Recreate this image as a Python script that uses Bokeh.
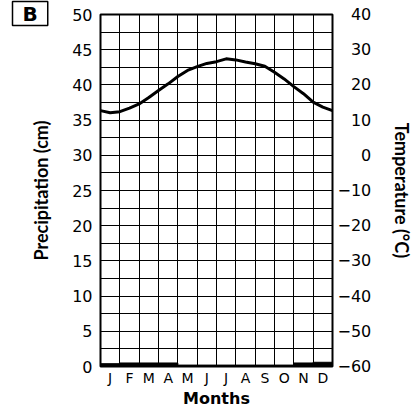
from bokeh.plotting import figure
from bokeh.models import Range1d, LinearAxis, FixedTicker, Title
from bokeh.embed import file_html
from bokeh.resources import INLINE

# ---- data ----
months = ["J", "F", "M", "A", "M", "J", "J", "A", "S", "O", "N", "D"]
month_pos = [0.5, 1.5, 2.5, 3.5, 4.5, 5.5, 6.5, 7.5, 8.5, 9.5, 10.5, 11.5]
precip_cm = [0.4, 0.5, 0.5, 0.5, 0.2, 0.2, 0.2, 0.2, 0.2, 0.2, 0.5, 0.6]
temp_pos = [0, 0.5, 1, 1.5, 2, 2.5, 3, 3.5, 4, 4.5, 5, 5.5, 6,
            6.5, 7, 7.5, 8, 8.5, 9, 9.5, 10, 10.5, 11, 11.5, 12]
temp_c = [12.7, 12.1, 12.4, 13.4, 14.6, 16.4, 18.4, 20.3, 22.4, 24.1, 25.2, 26.1, 26.6,
          27.4, 27.1, 26.5, 26.0, 25.3, 23.6, 21.7, 19.5, 17.5, 15.1, 13.7, 12.7]
precip_ticks = [0, 5, 10, 15, 20, 25, 30, 35, 40, 45, 50]
temp_ticks = [-60, -50, -40, -30, -20, -10, 0, 10, 20, 30, 40]

TICK_FONT = "DejaVu Sans"
LABEL_FONT = "Lato"


def right_label(t):
    # minus sign, and pad to the width of "−60" so that labels line up on the right
    s = str(t).replace("-", "\u2212")
    if t >= 0:
        s = "\u2007\u2009" + s
    if 0 <= t < 10:
        s = "\u2007" + s
    return s


p = figure(width=416, height=410,
           x_range=Range1d(0, 12), y_range=Range1d(0, 50),
           output_backend="svg", toolbar_location=None,
           min_border_left=100, min_border_right=76,
           min_border_top=14, min_border_bottom=44)
p.extra_y_ranges = {"temp": Range1d(-60, 40)}
p.background_fill_color = "white"
p.border_fill_color = "white"
p.outline_line_color = "black"
p.outline_line_width = 2

# panel letter "B" in a box, top-left corner
p.title = Title(text="\u2002B\u2002", align="left", offset=-88, standoff=-22,
                vertical_align="bottom",
                text_font=TICK_FONT, text_font_style="bold", text_font_size="20px",
                text_color="black", border_line_color="black", border_line_width=1.5,
                background_fill_color="white")

# grid: one column per month, one row per 2.5 cm (5 °C)
p.xgrid.ticker = FixedTicker(ticks=list(range(13)))
p.ygrid.ticker = FixedTicker(ticks=[i * 2.5 for i in range(21)])
for g in (p.xgrid, p.ygrid):
    g.grid_line_color = "black"
    g.grid_line_width = 1
    g.grid_line_alpha = 1.0

# x axis (months)
xa = p.xaxis[0]
xa.ticker = FixedTicker(ticks=month_pos)
xa.major_label_overrides = {m: lab for m, lab in zip(month_pos, months)}
xa.axis_label = "Months"
xa.axis_label_text_font = TICK_FONT
xa.axis_label_text_font_size = "16px"
xa.axis_label_standoff = 0
xa.major_label_text_font = TICK_FONT
xa.major_label_text_font_size = "14px"
xa.major_label_standoff = 3

# left axis (precipitation)
ya = p.yaxis[0]
ya.ticker = FixedTicker(ticks=precip_ticks)
ya.axis_label = "Precipitation (cm)"
ya.axis_label_text_font = LABEL_FONT
ya.axis_label_text_font_size = "18px"
ya.axis_label_standoff = 17
ya.major_label_text_font = TICK_FONT
ya.major_label_text_font_size = "16px"
ya.major_label_standoff = 8

# right axis (temperature)
ra = LinearAxis(y_range_name="temp", ticker=FixedTicker(ticks=temp_ticks),
                axis_label="Temperature (°C)")
ra.major_label_overrides = {t: right_label(t) for t in temp_ticks}
ra.axis_label_text_font = LABEL_FONT
ra.axis_label_text_font_size = "18px"
ra.axis_label_standoff = 17
ra.major_label_text_font = TICK_FONT
ra.major_label_text_font_size = "16px"
ra.major_label_standoff = 5
p.add_layout(ra, "right")

for ax in (xa, ya, ra):
    ax.axis_line_color = None
    ax.major_tick_line_color = None
    ax.minor_tick_line_color = None
    ax.major_tick_out = 0
    ax.major_tick_in = 0
    ax.minor_tick_out = 0
    ax.minor_tick_in = 0
    ax.major_label_text_color = "black"
    ax.axis_label_text_color = "black"
    ax.axis_label_text_font_style = "bold"

# precipitation bars
p.vbar(x=month_pos, top=precip_cm, width=1.0, bottom=0,
       fill_color="black", line_color="black")

# temperature curve
p.line(temp_pos, temp_c, y_range_name="temp", line_color="black",
       line_width=3, line_join="round", line_cap="round")

open("out.html", "w").write(file_html(p, INLINE))
